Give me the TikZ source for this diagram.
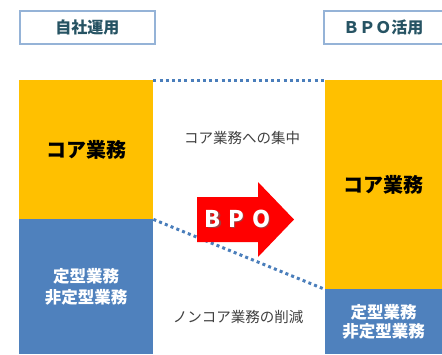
\documentclass[tikz,border=0pt]{standalone}
\usepackage{fontspec}
\setmainfont{Noto Sans CJK JP}
\newfontfamily\jpb{Noto Sans CJK JP}[BoldFont={* Bold}]
\definecolor{coreY}{HTML}{FFC000}
\definecolor{nonB}{HTML}{4F81BD}
\definecolor{dotB}{HTML}{4A7EBB}
\definecolor{hdrB}{HTML}{95B3D7}
\definecolor{hdrT}{HTML}{265363}
\definecolor{midT}{HTML}{404040}
\begin{document}
\begin{tikzpicture}[x=1pt,y=-1pt,
  hdr/.style={draw=hdrB,line width=1.6pt,fill=white,minimum height=33pt,inner sep=0pt,anchor=north west,
    text=hdrT,font=\fontsize{16}{18}\selectfont\bfseries},
  colbox/.style={inner sep=0pt,anchor=north west,align=center},
  coretxt/.style={font=\fontsize{20}{22}\selectfont\bfseries,text=black},
  nontxt/.style={font=\fontsize{16.5}{21}\selectfont\bfseries,text=white},
  midtxt/.style={font=\fontsize{14.5}{16}\selectfont,text=midT},
  dotline/.style={draw=dotB,line width=3pt,dash pattern=on 3pt off 3.2pt}]
\useasboundingbox (0,0) rectangle (442,354);
\begin{scope}
\clip (0,0) rectangle (442,354);
% headers
\node[hdr,minimum width=135pt] (hl) at (19,10) {自社運用};
\node[hdr,minimum width=125pt] (hr) at (323,10) {\hspace*{-6pt}ＢＰＯ活用};
% left column
\node[colbox,fill=coreY,minimum width=134pt,minimum height=139pt,coretxt] (lc) at (19,80) {コア業務};
\node[colbox,fill=nonB,minimum width=134pt,minimum height=135pt,nontxt] (ln) at (19,219) {定型業務\\非定型業務};
% right column
\node[colbox,fill=coreY,minimum width=117pt,minimum height=209pt,coretxt] (rc) at (325,80) {コア業務};
\node[colbox,fill=nonB,minimum width=117pt,minimum height=65pt,nontxt] (rn) at (325,289) {\raisebox{-3pt}{\shortstack{定型業務\\非定型業務}}};
% dotted lines
\draw[dotline] (lc.north east) -- (rc.north west);
\draw[dotline] (lc.south east) -- (rc.south west);
% middle texts
\node[midtxt] (t1) at (242,138) {コア業務への集中};
\node[midtxt] (t2) at (238,317) {ノンコア業務の削減};
% arrow
\fill[red] (197,197) -- (258,197) -- (258,182) -- (294,219.5) -- (258,257) -- (258,242) -- (197,242) -- cycle;
\node[font=\fontsize{23}{24}\selectfont\bfseries,text=black!60,opacity=0.6] (bs) at (238.8,219.8) {B\,\,P\,\,O};
\node[font=\fontsize{23}{24}\selectfont\bfseries,text=white] (bpo) at (237.5,218.5) {B\,\,P\,\,O};
\end{scope}
\end{tikzpicture}
\end{document}
